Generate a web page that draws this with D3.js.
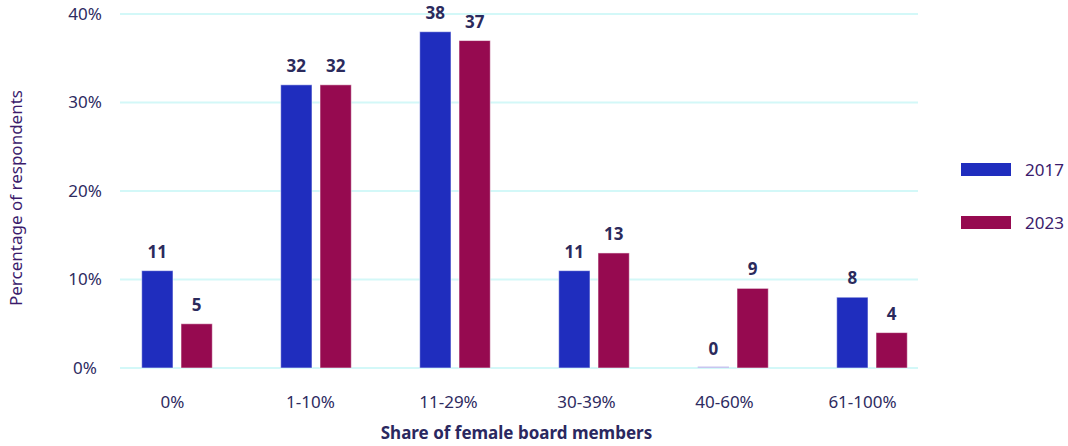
<!DOCTYPE html>
<html>
<head>
<meta charset="utf-8">
<script src="https://cdn.jsdelivr.net/npm/d3@7"></script>
<style>
  html, body { margin: 0; padding: 0; background: #fff; }
  svg { display: block; font-family: "Noto Sans", "Open Sans", sans-serif; }
</style>
</head>
<body>
<svg id="chart" width="1068" height="446"></svg>
<script>
const categories = ["0%", "1-10%", "11-29%", "30-39%", "40-60%", "61-100%"];
const seriesNames = ["2017", "2023"];
const values2017 = [11, 32, 38, 11, 0, 8];
const values2023 = [5, 32, 37, 13, 9, 4];
const yTicks = [0, 10, 20, 30, 40];
const colors = ["#1f2dbe", "#960a50"];

const FONT = "'Noto Sans', 'Open Sans', sans-serif";
const seriesValues = [values2017, values2023];
const svg = d3.select("#chart");

const y = d3.scaleLinear().domain([0, 40]).range([368, 14]);
const x0 = d3.scaleBand().domain(categories).range([107.5, 941.5]);
const x1 = d3.scaleBand().domain(seriesNames).range([0, x0.bandwidth()])
  .paddingInner(0.204).paddingOuter(0.87);
const xLabel = d3.scaleBand().domain(categories).range([103.5, 931.5]);

// gridlines
svg.append("g").selectAll("line").data(yTicks).join("line")
  .attr("x1", 120).attr("x2", 918)
  .attr("y1", d => y(d)).attr("y2", d => y(d))
  .attr("stroke", "#d3f8f8").attr("stroke-width", 2);

// y axis tick labels
const yAxis = d3.axisLeft(y).tickValues(yTicks).tickFormat(d => d + "%").tickSize(0);
const gy = svg.append("g").attr("transform", "translate(85,0)").call(yAxis);
gy.select(".domain").remove();
gy.selectAll("text").attr("x", 0).attr("text-anchor", "middle")
  .attr("font-family", FONT).attr("font-size", 17).attr("fill", "#2e2b5f");

// x axis tick labels
const xAxis = d3.axisBottom(xLabel).tickSize(0);
const gx = svg.append("g").attr("transform", "translate(0,368)").call(xAxis);
gx.select(".domain").remove();
gx.selectAll("text").attr("y", 40).attr("dy", 0)
  .attr("font-family", FONT).attr("font-size", 17).attr("fill", "#2e2b5f");

// bars
const groups = svg.append("g").selectAll("g").data(categories).join("g")
  .attr("transform", d => `translate(${x0(d)},0)`);

const bars = groups.selectAll("g.bar").data((d, i) => seriesNames.map((s, j) => ({ s, j, v: seriesValues[j][i] })))
  .join("g").attr("class", "bar");

bars.append("rect")
  .attr("x", d => x1(d.s))
  .attr("width", x1.bandwidth())
  .attr("y", d => Math.min(y(d.v), y(0) - 1.5))
  .attr("height", d => Math.max(y(0) - y(d.v), 1.5))
  .attr("fill", d => d.v === 0 ? "#c8c6f0" : colors[d.j])
  .attr("stroke", d => d.v === 0 ? "none" : "rgba(255,255,255,0.55)")
  .attr("stroke-width", 1);

bars.append("text")
  .attr("x", d => x1(d.s) + x1.bandwidth() / 2)
  .attr("y", d => y(d.v) - 13)
  .attr("text-anchor", "middle")
  .attr("font-family", FONT)
  .attr("font-weight", "bold").attr("font-size", 17)
  .attr("fill", "#2b2a5c")
  .text(d => d3.format(".0f")(d.v));

// axis titles
svg.append("text")
  .attr("x", 516.5).attr("y", 439)
  .attr("text-anchor", "middle")
  .attr("font-family", FONT)
  .attr("font-weight", "bold").attr("font-size", 17)
  .attr("fill", "#2a2860")
  .text("Share of female board members");

svg.append("text")
  .attr("transform", "translate(22,198) rotate(-90)")
  .attr("text-anchor", "middle")
  .attr("font-family", FONT)
  .attr("font-size", 17)
  .attr("fill", "#3b1b6c")
  .text("Percentage of respondents");

// legend
const legend = svg.append("g").selectAll("g").data(seriesNames).join("g")
  .attr("transform", (d, i) => `translate(961,${163 + i * 53})`);
legend.append("rect").attr("width", 50).attr("height", 13)
  .attr("fill", (d, i) => colors[i]);
legend.append("text").attr("x", 64).attr("y", 12.5)
  .attr("font-family", FONT).attr("font-size", 17)
  .attr("fill", "#3b1b6c")
  .text(d => d);
</script>
</body>
</html>
